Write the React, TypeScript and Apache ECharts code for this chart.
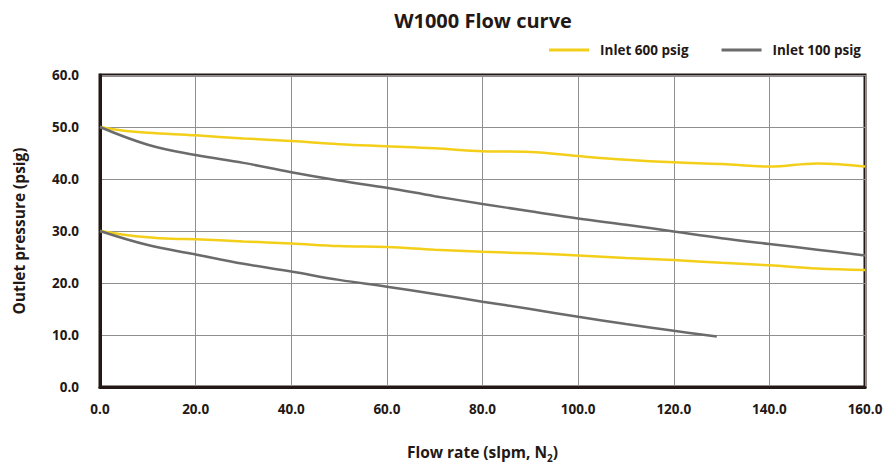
import React, { useEffect, useRef } from "react";
import * as echarts from "echarts";

const title = "W1000 Flow curve";
const legendNames = ["Inlet 600 psig", "Inlet 100 psig"];

// Inlet 600 psig, set at 50 psig
const hi600X = [0, 5, 10, 20, 30, 40, 50, 60, 70, 80, 90, 100, 110, 120, 130, 140, 150, 160];
const hi600Y = [50.0, 49.3, 48.9, 48.4, 47.8, 47.3, 46.7, 46.3, 45.9, 45.35, 45.2, 44.4, 43.7, 43.2, 42.9, 42.4, 43.0, 42.4];
// Inlet 100 psig, set at 50 psig
const hi100X = [0, 10, 20, 30, 40, 50, 60, 70, 80, 90, 100, 110, 120, 130, 140, 150, 160];
const hi100Y = [50.0, 46.6, 44.6, 43.1, 41.3, 39.7, 38.3, 36.7, 35.2, 33.8, 32.4, 31.2, 29.9, 28.6, 27.5, 26.4, 25.3];
// Inlet 600 psig, set at 30 psig
const lo600X = [0, 5, 10, 15, 20, 30, 40, 50, 60, 70, 80, 90, 100, 110, 120, 130, 140, 150, 160];
const lo600Y = [30.0, 29.3, 28.8, 28.5, 28.4, 28.0, 27.6, 27.1, 26.9, 26.4, 26.0, 25.7, 25.3, 24.8, 24.4, 23.9, 23.4, 22.8, 22.5];
// Inlet 100 psig, set at 30 psig
const lo100X = [0, 10, 20, 30, 40, 50, 60, 70, 80, 90, 100, 110, 120, 129];
const lo100Y = [30.0, 27.3, 25.5, 23.7, 22.2, 20.6, 19.3, 17.9, 16.4, 15.0, 13.5, 12.1, 10.8, 9.7];

const YELLOW = "#f3cf1a";
const GRAY = "#6b6b6b";
const DARK = "#231815";
const FONT = "Open Sans";

const pairs = (xs: number[], ys: number[]) => xs.map((x, i) => [x, ys[i]]);

export default function App() {
  const ref = useRef<HTMLDivElement>(null);
  useEffect(() => {
    document.body.style.margin = "0";
    if (!ref.current) return;
    const chart = echarts.init(ref.current, null, { renderer: "svg" });
    const line = (name: string, color: string, data: number[][]) => ({
      name,
      type: "line",
      data,
      symbol: "none",
      smooth: 0.4,
      lineStyle: { color, width: 2.5 },
      itemStyle: { color },
    });
    chart.setOption({
      animation: false,
      textStyle: { fontFamily: FONT },
      title: {
        text: title,
        left: 478,
        textAlign: "center",
        top: 5,
        textStyle: { fontFamily: FONT, fontWeight: "bold", fontSize: 20, color: DARK },
      },
      legend: {
        data: legendNames,
        right: 26,
        top: 38,
        icon: "rect",
        itemWidth: 40,
        itemHeight: 3,
        itemGap: 33,
        textStyle: { fontFamily: FONT, fontWeight: "bold", fontSize: 13.5, color: DARK, padding: [0, 0, 0, 6] },
      },
      grid: {
        left: 100,
        right: 27,
        top: 75,
        bottom: 78,
        show: true,
        borderColor: DARK,
        borderWidth: 3,
        backgroundColor: "transparent",
      },
      xAxis: {
        type: "value",
        min: 0,
        max: 160,
        interval: 20,
        name: "Flow rate (slpm, N{sub|2})",
        nameLocation: "middle",
        nameGap: 53,
        nameTextStyle: {
          fontFamily: FONT,
          fontWeight: "bold",
          fontSize: 15.5,
          color: DARK,
          rich: {
            sub: { fontFamily: FONT, fontWeight: "bold", fontSize: 10, color: DARK, padding: [13, 0, 0, 0] },
          },
        },
        axisLine: { show: true, lineStyle: { color: DARK, width: 3 } },
        axisTick: { show: false },
        axisLabel: {
          margin: 15,
          fontFamily: FONT,
          fontWeight: "bold",
          fontSize: 13.5,
          color: DARK,
          formatter: (v: number) => v.toFixed(1),
        },
        splitLine: { show: true, lineStyle: { color: "#8f8f8f", width: 1 } },
      },
      yAxis: {
        type: "value",
        min: 0,
        max: 60,
        interval: 10,
        name: "Outlet pressure (psig)",
        nameLocation: "middle",
        nameGap: 73,
        nameTextStyle: { fontFamily: FONT, fontWeight: "bold", fontSize: 15.5, color: DARK },
        axisLine: { show: true, lineStyle: { color: DARK, width: 3 } },
        axisTick: { show: false },
        axisLabel: {
          margin: 21,
          fontFamily: FONT,
          fontWeight: "bold",
          fontSize: 13.5,
          color: DARK,
          formatter: (v: number) => v.toFixed(1),
        },
        splitLine: { show: true, lineStyle: { color: "#8f8f8f", width: 1 } },
      },
      series: [
        line(legendNames[0], YELLOW, pairs(hi600X, hi600Y)),
        line(legendNames[1], GRAY, pairs(hi100X, hi100Y)),
        line(legendNames[0], YELLOW, pairs(lo600X, lo600Y)),
        line(legendNames[1], GRAY, pairs(lo100X, lo100Y)),
      ],
    });
    return () => chart.dispose();
  }, []);
  return <div ref={ref} style={{ width: 892, height: 468 }} />;
}
